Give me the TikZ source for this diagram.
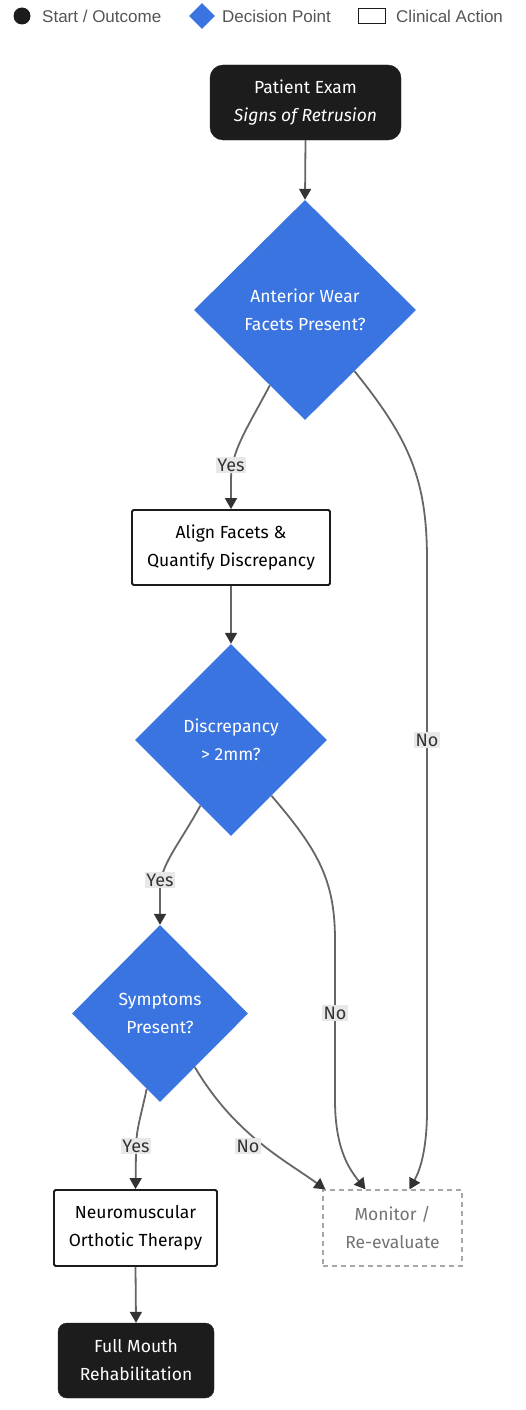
\documentclass[tikz,border=0pt]{standalone}
\usepackage{fontspec}
\setmainfont{Fira Sans}
\newfontfamily\legendfont{Liberation Sans}
\usetikzlibrary{shapes.geometric,arrows.meta,calc}
\definecolor{dblue}{HTML}{3A74E0}
\definecolor{dark}{HTML}{1C1C1C}
\definecolor{edgegray}{HTML}{666666}
\definecolor{tipgray}{HTML}{333333}
\definecolor{labbg}{HTML}{E8E8E8}
\definecolor{legtext}{HTML}{555555}
\tikzset{
  base/.style={align=center, font=\fontsize{17.5}{28}\selectfont, inner sep=0pt},
  outcome/.style={base, fill=dark, text=white, rounded corners=13pt, draw=dark},
  decision/.style={base, diamond, fill=dblue, text=white, inner sep=0pt, aspect=1},
  action/.style={base, draw=dark, line width=1.8pt, fill=white, rounded corners=1.5pt},
  monitorbox/.style={base, draw=gray!70, dashed, line width=1.1pt, text=gray!90!black, dash pattern=on 5pt off 4pt},
  edge/.style={draw=edgegray, line width=1.8pt, -{Triangle[length=11pt,width=12pt,color=tipgray]}},
  lab/.style={fill=labbg, font=\fontsize{18}{20}\selectfont, text=dark!90, inner sep=1.5pt},
  legtxt/.style={font=\legendfont\fontsize{17}{19}\selectfont, text=legtext, anchor=west, inner sep=0pt}
}
\begin{document}
\begin{tikzpicture}[x=1pt,y=-1pt]
\useasboundingbox (0,0) rectangle (526,1410);
% legend
\node[circle, fill=dark, minimum size=17pt, inner sep=0pt] (lc) at (22,16) {};
\node[legtxt] (lt1) at (42,16) {Start / Outcome};
\node[diamond, fill=dblue, minimum size=26pt, inner sep=0pt] (ld) at (202,16) {};
\node[legtxt] (lt2) at (222,16) {Decision Point};
\node[draw=dark, line width=1.8pt, minimum width=27pt, minimum height=15pt, inner sep=0pt] (lr) at (372,16) {};
\node[legtxt] (lt3) at (396,16) {Clinical Action};
% nodes
\node[outcome, minimum width=191pt, minimum height=75pt] (s) at (305.5,102.5) {Patient Exam\\\itshape Signs of Retrusion};
\node[decision, minimum width=222pt, minimum height=220pt] (d1) at (305,310) {Anterior Wear\\Facets Present?};
\node[action, minimum width=198pt, minimum height=75pt] (a) at (231,547.5) {Align Facets \&\\Quantify Discrepancy};
\node[decision, minimum width=192pt, minimum height=192pt] (d2) at (231,740) {Discrepancy\\\textgreater{} 2mm?};
\node[decision, minimum width=176pt, minimum height=177pt] (d3) at (160,1013.5) {Symptoms\\Present?};
\node[action, minimum width=163pt, minimum height=76pt] (n) at (135.5,1228) {Neuromuscular\\Orthotic Therapy};
\node[outcome, minimum width=156pt, minimum height=75pt, rounded corners=9pt] (f) at (136,1360.5) {Full Mouth\\Rehabilitation};
\node[monitorbox, minimum width=139pt, minimum height=76pt] (m) at (392.5,1228) {Monitor /\\Re-evaluate};
% edges
\draw[edge] (s.south) -- (d1.north);
\draw[edge] (d1.-115) .. controls (245,432) and (231,452) .. (231,480) -- (a.north);
\draw[edge] (a.south) -- (d2.north);
\draw[edge] (d2.-115) .. controls (177,848) and (160,865) .. (160,890) -- (d3.north);
\draw[edge] (d3.-100) .. controls (140,1120) and (136,1130) .. (136,1150) -- (n.north);
\draw[edge] (n.south) -- (f.north);
\draw[edge] (d3.-57) .. controls (235,1135) and (285,1160) .. ($(m.north west)+(3,0)$);
\draw[edge] (d2.-54) .. controls (318,850) and (335,880) .. (335,940) -- (335,1100) .. controls (335,1150) and (350,1170) .. ($(m.north)+(-27,0)$);
\draw[edge] (d1.-51) .. controls (410,440) and (427,480) .. (427,560) -- (427,1110) .. controls (427,1150) and (420,1170) .. ($(m.north)+(17,0)$);
% labels
\node[lab] (y1) at (231,465) {Yes};
\node[lab] (y2) at (160,880) {Yes};
\node[lab] (y3) at (136,1146) {Yes};
\node[lab] (n1) at (427,740) {No};
\node[lab] (n2) at (335,1013) {No};
\node[lab] (n3) at (248,1146) {No};
\end{tikzpicture}
\end{document}
